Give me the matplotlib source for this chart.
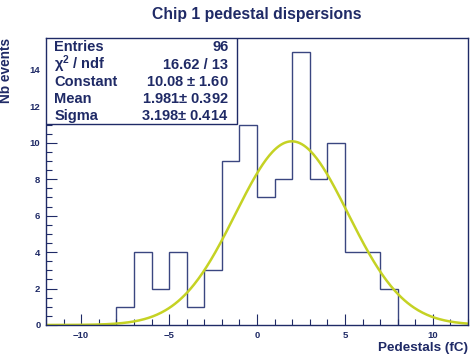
import numpy as np
import matplotlib
matplotlib.use('Agg')
from matplotlib import pyplot as plt
from matplotlib.ticker import MultipleLocator

plt.rcParams['font.family'] = ['Liberation Sans', 'DejaVu Sans']
plt.rcParams['font.weight'] = 'bold'
plt.rcParams['mathtext.default'] = 'regular'

navy = '#1f2a66'

# histogram: bin edges and counts
bin_edges = np.arange(-8, 9, 1)
counts = [1, 4, 2, 4, 1, 3, 9, 11, 7, 8, 15, 8, 10, 4, 4, 2]

# gaussian fit parameters (from the stats box)
g_const = 10.08
g_mean = 1.981
g_sigma = 3.198

stats_names = ['Entries', '$\\chi^2$ / ndf', 'Constant', 'Mean', 'Sigma']
stats_vals = ['96', '16.62 / 13', '10.08 $\\pm$ 1.60', '1.981$\\pm$ 0.392', '3.198$\\pm$ 0.414']

fig = plt.figure(figsize=(4.7, 3.54), dpi=100)
ax = fig.add_axes([46 / 470, 29 / 354, 422 / 470, 287 / 354])

ax.stairs(counts, bin_edges, color='#3a4680', lw=1.0)

xf = np.linspace(-12, 12, 400)
ax.plot(xf, g_const * np.exp(-0.5 * ((xf - g_mean) / g_sigma) ** 2), color='#c5d224', lw=1.8)

ax.set_xlim(-12, 12)
ax.set_ylim(0, 15.75)
ax.xaxis.set_major_locator(MultipleLocator(5))
ax.xaxis.set_minor_locator(MultipleLocator(1))
ax.yaxis.set_major_locator(MultipleLocator(2))
ax.yaxis.set_minor_locator(MultipleLocator(0.5))
ax.tick_params(which='both', direction='in', colors=navy, labelsize=6.8, width=0.8)
ax.tick_params(which='major', length=8, pad=4)
ax.tick_params(which='minor', length=4)
for lab in ax.get_xticklabels() + ax.get_yticklabels():
    lab.set_fontweight('bold')
for s in ax.spines.values():
    s.set_color(navy)
    s.set_linewidth(1.0)

ax.set_xlabel('Pedestals (fC)', color=navy, fontsize=9.7, fontweight='bold', loc='right', labelpad=2)
ax.set_ylabel('Nb events', color=navy, fontsize=9.8, fontweight='bold', loc='top', labelpad=12)
fig.text(257 / 470, 1 - 15 / 354, 'Chip 1 pedestal dispersions', color=navy, fontsize=11.3,
         fontweight='bold', ha='center', va='center')

# stats box
bx0, bx1 = 0.0, 0.452
by0, by1 = 0.70, 1.0
ax.add_patch(plt.Rectangle((bx0, by0), bx1 - bx0, by1 - by0, transform=ax.transAxes,
                           facecolor='white', edgecolor=navy, lw=1.0, zorder=5))
n = len(stats_names)
for i in range(n):
    yy = by1 - (i + 0.55) * (by1 - by0) / n
    ax.text(0.02, yy, stats_names[i], transform=ax.transAxes, color=navy, fontsize=10.5,
            fontweight='bold', ha='left', va='center', zorder=6)
    ax.text(bx1 - 0.02, yy, stats_vals[i], transform=ax.transAxes, color=navy, fontsize=10.5,
            fontweight='bold', ha='right', va='center', zorder=6)

fig.savefig('out.png', dpi=100)
